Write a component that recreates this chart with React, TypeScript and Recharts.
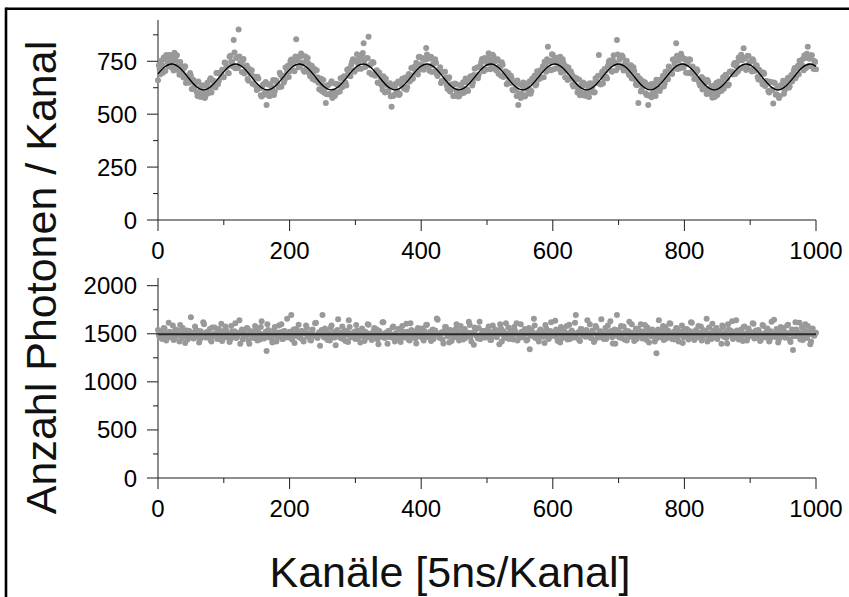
import React from 'react';
import { ComposedChart, Scatter, XAxis, YAxis } from 'recharts';

const CHANNEL_STEP = 2.5;

// channels 0, 2.5, 5, ...
const topCounts = [
  660,711,753,696,761,780,743,780,722,765,790,723,747,686,728,695,718,647,682,649,683,619,628,651,586,599,626,581,635,588,649,608,670,630,652,626,695,658,688,
  710,674,743,724,693,776,748,850,717,767,900,743,699,761,701,730,658,692,707,645,673,614,668,623,584,641,603,543,640,586,629,661,608,657,634,696,630,682,662,
  675,729,703,758,741,703,854,771,727,787,740,701,749,766,693,715,666,715,662,675,618,669,635,601,553,636,593,646,577,608,644,603,640,670,627,679,650,710,
  715,679,748,706,755,783,715,756,779,835,723,766,866,731,688,743,681,707,647,679,636,679,602,638,606,646,535,586,630,604,654,595,638,630,672,616,682,655,718,
  668,714,743,688,771,736,763,724,813,762,705,771,732,703,743,680,708,647,699,659,673,619,675,613,634,586,643,601,585,636,624,601,668,617,654,679,635,685,675,
  720,687,730,761,703,763,743,788,712,755,773,716,752,691,721,745,676,702,642,695,646,669,612,643,586,543,640,596,650,584,634,613,656,610,647,683,642,695,670,
  672,727,748,701,819,748,708,781,752,717,767,739,697,759,703,727,661,697,702,639,676,634,602,663,604,633,588,641,605,581,639,628,603,670,652,780,640,700,668,
  705,669,746,736,701,778,738,850,722,765,777,706,742,751,693,715,668,722,665,637,553,667,615,641,651,591,543,628,580,644,604,663,620,610,662,681,645,678,
  665,719,698,758,738,835,713,766,785,729,760,696,739,759,698,725,666,695,705,647,668,617,665,618,661,596,623,578,635,628,591,655,616,653,620,686,668,640,702,
  700,734,690,744,768,716,755,811,767,722,775,746,702,753,705,730,664,702,657,697,633,657,610,653,616,551,646,594,625,586,637,658,613,643,672,631,685,675,718,
  680,729,753,721,761,778,718,819,762,777,727,751,712,
];

// channels 1.25, 3.75, 6.25, ...
const topCountsOdd = [
  730,689,732,768,704,761,727,779,749,706,758,779,706,747,714,673,727,662,662,695,619,663,642,605,654,582,637,606,576,633,599,661,602,659,632,694,643,695,695,
  675,744,722,695,771,746,725,792,765,718,773,734,754,692,727,666,714,690,644,678,634,677,622,590,634,592,652,604,586,643,613,591,660,644,627,686,677,650,720,
  700,676,750,735,706,773,755,722,772,744,708,774,714,739,679,729,697,660,707,648,664,610,662,622,594,638,597,656,601,586,643,636,607,669,637,676,635,690,
  683,734,760,700,751,741,775,715,789,754,728,764,696,737,747,686,704,650,697,655,616,660,667,608,632,585,632,591,644,608,591,646,667,621,659,628,690,683,665,
  723,694,734,770,711,766,710,757,782,724,763,699,739,759,689,709,722,657,660,701,636,667,607,642,586,645,612,584,638,598,651,614,650,609,672,661,650,715,677,
  670,722,747,712,766,711,763,742,719,781,748,707,759,725,681,733,682,702,647,668,682,615,649,615,659,598,577,634,621,590,646,621,597,669,662,636,703,665,707,
  710,674,737,760,714,753,783,712,767,746,715,771,716,742,674,716,720,667,690,631,662,670,617,590,639,650,599,586,628,646,606,646,604,647,682,644,683,645,713,
  677,729,754,705,756,743,707,782,757,726,771,709,752,722,684,731,677,704,642,681,642,607,657,635,599,635,587,641,598,626,586,648,662,624,667,631,700,685,
  725,709,690,758,716,776,753,717,772,721,761,737,694,757,691,713,667,712,664,635,676,630,647,595,652,600,632,606,581,648,603,638,610,674,642,676,635,700,697,
  687,742,727,702,756,781,720,762,709,776,743,709,759,705,731,676,710,687,642,691,639,655,602,652,614,650,592,624,576,636,626,596,652,664,625,671,655,705,670,
  717,689,752,732,708,766,785,727,765,778,713,747,
];

const bottomCounts = [
  1540,1465,1510,1480,1555,1430,1495,1520,1470,1585,1450,1505,1535,1420,1490,1560,1475,1515,1440,1530,
  1671,1485,1455,1545,1500,1410,1525,1470,1600,1460,1515,1490,1435,1565,1480,1505,1445,1550,1495,1425,
  1530,1575,1460,1500,1440,1520,1485,1610,1465,1510,1395,1545,1475,1500,1560,1430,1490,1525,1455,1580,
  1470,1515,1440,1630,1495,1465,1321,1540,1505,1450,1485,1570,1420,1510,1475,1600,1445,1530,1490,1460,
  1520,1695,1480,1405,1550,1495,1465,1525,1440,1505,1585,1470,1500,1430,1545,1480,1615,1455,1515,1490,
  1695,1460,1525,1435,1495,1560,1470,1510,1380,1540,1485,1455,1575,1500,1425,1520,1640,1465,1505,1480,
  1445,1535,1490,1410,1555,1475,1515,1460,1595,1500,1435,1525,1480,1545,1390,1510,1470,1620,1455,1500,
  1530,1465,1490,1575,1420,1505,1550,1445,1485,1520,1460,1605,1495,1430,1540,1475,1515,1400,1560,1480,
  1505,1450,1530,1590,1470,1495,1425,1545,1485,1515,1645,1460,1500,1440,1525,1570,1475,1410,1535,1490,
  1465,1550,1500,1430,1580,1485,1520,1455,1495,1625,1470,1510,1385,1540,1480,1560,1445,1505,1530,1460,
  1495,1575,1435,1515,1480,1545,1465,1500,1600,1420,1525,1490,1455,1565,1475,1510,1440,1535,1610,1485,
  1460,1520,1495,1550,1430,1505,1338,1540,1475,1585,1500,1445,1530,1470,1515,1405,1555,1490,1465,1620,
  1510,1480,1545,1425,1500,1570,1455,1525,1490,1440,1595,1475,1515,1460,1695,1505,1435,1550,1485,1520,
  1470,1640,1500,1455,1535,1415,1580,1490,1460,1525,1505,1445,1560,1480,1515,1630,1465,1500,1395,1695,
  1540,1485,1455,1575,1510,1430,1525,1495,1600,1470,1505,1445,1550,1480,1520,1460,1590,1435,1500,1530,
  1475,1515,1420,1297,1545,1490,1465,1580,1505,1450,1535,1610,1480,1500,1440,1560,1470,1525,1495,1405,
  1550,1485,1515,1460,1620,1500,1435,1540,1475,1510,1575,1455,1495,1530,1420,1565,1480,1605,1465,1505,
  1445,1525,1490,1585,1470,1510,1400,1545,1485,1630,1460,1500,1535,1440,1520,1475,1570,1495,1430,1555,
  1480,1515,1605,1455,1500,1540,1425,1495,1580,1465,1530,1490,1445,1625,1505,1470,1550,1410,1520,1485,
  1560,1460,1505,1595,1440,1525,1331,1490,1545,1475,1615,1500,1435,1530,1465,1580,1495,1420,1555,1480,
  1510,
];

const bottomCountsOdd = [
  1490,1525,1445,1560,1500,1475,1615,1465,1510,1435,1545,1480,1500,1590,1455,1520,1405,1535,1495,1470,
  1510,1450,1575,1485,1530,1440,1500,1620,1475,1515,1460,1550,1420,1495,1565,1480,1510,1445,1605,1490,
  1465,1535,1500,1415,1580,1470,1525,1455,1490,1640,1505,1440,1530,1480,1555,1395,1515,1475,1500,1545,
  1430,1505,1570,1485,1450,1520,1600,1465,1500,1410,1540,1490,1460,1585,1515,1445,1525,1480,1655,1470,
  1500,1440,1545,1510,1475,1595,1455,1530,1420,1505,1560,1485,1435,1520,1490,1610,1465,1500,1375,1540,
  1480,1555,1470,1505,1430,1585,1495,1460,1525,1650,1475,1510,1445,1535,1490,1415,1570,1500,1465,1520,
  1590,1450,1505,1480,1540,1425,1515,1600,1470,1495,1455,1560,1500,1440,1530,1485,1620,1460,1510,1395,
  1525,1490,1565,1445,1505,1475,1545,1415,1580,1500,1465,1520,1435,1610,1485,1510,1450,1540,1495,1470,
  1555,1430,1500,1595,1465,1520,1480,1445,1535,1660,1490,1455,1515,1400,1570,1500,1475,1540,1425,1510,
  1485,1600,1460,1525,1495,1440,1550,1475,1510,1590,1420,1505,1565,1480,1450,1625,1495,1530,1465,1500,
  1545,1470,1435,1585,1505,1480,1520,1390,1555,1495,1460,1610,1500,1445,1535,1475,1570,1515,1430,1490,
  1600,1465,1525,1500,1440,1560,1485,1515,1655,1455,1505,1420,1545,1490,1470,1590,1510,1445,1530,1480,
  1500,1635,1460,1520,1410,1555,1495,1470,1580,1505,1445,1535,1485,1615,1460,1515,1425,1550,1500,1475,
  1540,1490,1600,1455,1510,1435,1565,1485,1520,1650,1470,1500,1445,1585,1495,1530,1400,1545,1480,1515,
  1460,1580,1505,1440,1535,1490,1625,1470,1510,1425,1555,1485,1500,1600,1450,1525,1475,1565,1410,1505,
  1545,1480,1515,1455,1640,1495,1530,1435,1570,1500,1470,1605,1445,1520,1490,1555,1420,1510,1585,1465,
  1500,1550,1440,1525,1615,1475,1505,1460,1580,1490,1430,1540,1515,1655,1470,1500,1445,1535,1485,1560,
  1475,1520,1395,1565,1500,1455,1600,1485,1530,1445,1510,1640,1470,1495,1545,1425,1575,1505,1460,1520,
  1490,1610,1450,1535,1480,1515,1435,1590,1500,1465,1555,1420,1525,1485,1645,1470,1505,1440,1570,1495,
  1530,1460,1585,1500,1415,1545,1475,1620,1490,1510,1440,1565,1480,1600,1455,1520,1390,1550,1485,1505,
];

const fitChannels = [
  0, 8.7, 20.8, 32.9, 45.1, 57.2, 69.3, 81.4, 93.6, 105.7, 117.8, 129.9, 142.1, 154.2, 166.3, 178.4,
  190.6, 202.7, 214.8, 226.9, 239.1, 251.2, 263.3, 275.4, 287.6, 299.7, 311.8, 323.9, 336.1, 348.2,
  360.3, 372.4, 384.6, 396.7, 408.8, 420.9, 433.1, 445.2, 457.3, 469.4, 481.6, 493.7, 505.8, 517.9,
  530.1, 542.2, 554.3, 566.4, 578.6, 590.7, 602.8, 614.9, 627.1, 639.2, 651.3, 663.4, 675.6, 687.7,
  699.8, 711.9, 724.1, 736.2, 748.3, 760.4, 772.6, 784.7, 796.8, 808.9, 821.1, 833.2, 845.3, 857.4,
  869.6, 881.7, 893.8, 905.9, 918.1, 930.2, 942.3, 954.4, 966.6, 978.7, 990.8, 1000,
];
const fitCounts = [
  690,
  719, 737, 719, 676, 633, 615, 633, 676,
  719, 737, 719, 676, 633, 615, 633, 676,
  719, 737, 719, 676, 633, 615, 633, 676,
  719, 737, 719, 676, 633, 615, 633, 676,
  719, 737, 719, 676, 633, 615, 633, 676,
  719, 737, 719, 676, 633, 615, 633, 676,
  719, 737, 719, 676, 633, 615, 633, 676,
  719, 737, 719, 676, 633, 615, 633, 676,
  719, 737, 719, 676, 633, 615, 633, 676,
  719, 737, 719, 676, 633, 615, 633, 676,
  719, 737, 726,
];

const levelChannels = [0, 1000];
const levelCounts = [1495, 1495];

const xMajorTicks = [0, 200, 400, 600, 800, 1000];
const xMinorTicks = [100, 300, 500, 700, 900];
const topYMajor = [0, 250, 500, 750];
const topYMinor = [125, 375, 625, 875];
const bottomYMajor = [0, 500, 1000, 1500, 2000];
const bottomYMinor = [250, 750, 1250, 1750];

const yTitle = 'Anzahl Photonen / Kanal';
const xTitle = 'Kanäle [5ns/Kanal]';

const FONT = '"Liberation Sans", Arial, Helvetica, sans-serif';
const AXIS = '#1c1c1c';
const DOT = '#999999';

const pairPoints = (xs: number[], ys: number[]) => xs.map((x, i) => ({ x, y: ys[i] }));
const countPoints = (counts: number[], start: number) =>
  counts.map((y, i) => ({ x: start + i * CHANNEL_STEP, y }));

const sortNum = (a: number[]) => [...a].sort((p, q) => p - q);

function makeXTick(major: number[]) {
  return (props: any) => {
    const { x, y, payload } = props;
    const isMajor = major.includes(payload.value);
    return (
      <g>
        <line x1={x} x2={x} y1={y} y2={y + (isMajor ? 11 : 5)} stroke={AXIS} strokeWidth={1} />
        {isMajor && (
          <text x={x} y={y + 39} textAnchor="middle" fontSize={24} fontFamily={FONT} fill="#000">
            {payload.value}
          </text>
        )}
      </g>
    );
  };
}

function makeYTick(major: number[]) {
  return (props: any) => {
    const { x, y, payload } = props;
    const isMajor = major.includes(payload.value);
    return (
      <g>
        <line x1={x - (isMajor ? 11 : 5)} x2={x} y1={y} y2={y} stroke={AXIS} strokeWidth={1} />
        {isMajor && (
          <text x={x - 21} y={y + 8.5} textAnchor="end" fontSize={24} fontFamily={FONT} fill="#000">
            {payload.value}
          </text>
        )}
      </g>
    );
  };
}

const dotShape = (p: any) => <circle cx={p.cx} cy={p.cy} r={3} fill={DOT} />;
const noShape = () => <g />;

type PanelProps = {
  height: number;
  marginTop: number;
  marginBottom: number;
  counts: number[];
  countsOdd: number[];
  lineData: { x: number; y: number }[];
  yDomain: [number, number];
  yMajor: number[];
  yMinor: number[];
  lineType: 'natural' | 'linear';
  lineColor: string;
  lineWidth: number;
};

function Panel(p: PanelProps) {
  return (
    <ComposedChart
      width={849}
      height={p.height}
      margin={{ top: p.marginTop, right: 33, left: 0, bottom: p.marginBottom }}
    >
      <XAxis
        type="number"
        dataKey="x"
        domain={[0, 1000]}
        ticks={sortNum([...xMajorTicks, ...xMinorTicks])}
        interval={0}
        tickSize={0}
        tickMargin={0}
        tickLine={false}
        axisLine={{ stroke: AXIS, strokeWidth: 1 }}
        tick={makeXTick(xMajorTicks)}
        height={50}
      />
      <YAxis
        type="number"
        dataKey="y"
        domain={p.yDomain}
        allowDataOverflow
        ticks={sortNum([...p.yMajor, ...p.yMinor])}
        interval={0}
        tickSize={0}
        tickMargin={0}
        tickLine={false}
        axisLine={{ stroke: AXIS, strokeWidth: 1 }}
        tick={makeYTick(p.yMajor)}
        width={158}
      />
      <Scatter data={countPoints(p.counts, 0)} fill={DOT} shape={dotShape} isAnimationActive={false} />
      <Scatter
        data={countPoints(p.countsOdd, CHANNEL_STEP / 2)}
        fill={DOT}
        shape={dotShape}
        isAnimationActive={false}
      />
      <Scatter
        data={p.lineData}
        line={{ stroke: p.lineColor, strokeWidth: p.lineWidth, fill: 'none' }}
        lineType="joint"
        lineJointType={p.lineType}
        shape={noShape}
        isAnimationActive={false}
      />
    </ComposedChart>
  );
}

export default function App() {
  return (
    <div
      style={{
        position: 'absolute',
        left: 0,
        top: 0,
        width: 849,
        height: 597,
        background: '#fff',
        overflow: 'hidden',
        fontFamily: FONT,
      }}
    >
      <div style={{ position: 'absolute', left: 0, top: 0 }}>
        <Panel
          height={270}
          marginTop={20}
          marginBottom={0}
          counts={topCounts}
          countsOdd={topCountsOdd}
          lineData={pairPoints(fitChannels, fitCounts)}
          yDomain={[0, 945]}
          yMajor={topYMajor}
          yMinor={topYMinor}
          lineType="natural"
          lineColor="#000"
          lineWidth={1.3}
        />
      </div>
      <div style={{ position: 'absolute', left: 0, top: 270 }}>
        <Panel
          height={327}
          marginTop={8}
          marginBottom={69}
          counts={bottomCounts}
          countsOdd={bottomCountsOdd}
          lineData={pairPoints(levelChannels, levelCounts)}
          yDomain={[0, 2080]}
          yMajor={bottomYMajor}
          yMinor={bottomYMinor}
          lineType="linear"
          lineColor="#2a2a2a"
          lineWidth={1.8}
        />
      </div>
      <svg
        width={849}
        height={597}
        style={{ position: 'absolute', left: 0, top: 0, pointerEvents: 'none' }}
      >
        <line x1={6} y1={8.8} x2={849} y2={8.8} stroke="#000" strokeWidth={2.6} />
        <line x1={6} y1={7.5} x2={6} y2={597} stroke="#000" strokeWidth={2.6} />
        <text
          transform="translate(56, 277.5) rotate(-90)"
          textAnchor="middle"
          fontSize={43}
          fontFamily={FONT}
          fill="#111"
        >
          {yTitle}
        </text>
        <text x={450} y={587} textAnchor="middle" fontSize={43} fontFamily={FONT} fill="#111">
          {xTitle}
        </text>
      </svg>
    </div>
  );
}
